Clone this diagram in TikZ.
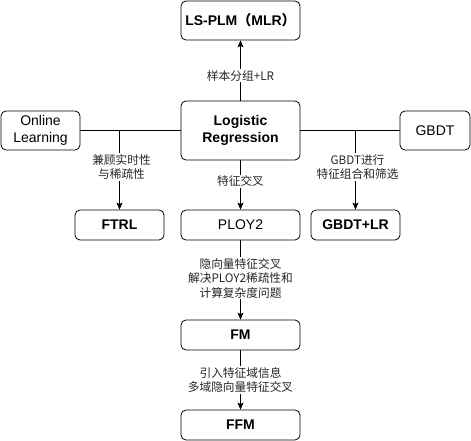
\documentclass[tikz,border=0pt]{standalone}
\usepackage{fontspec}
\setmainfont{Liberation Sans}
\newfontfamily\cjk{Noto Sans CJK SC}
\usetikzlibrary{positioning, arrows.meta}

\begin{document}
\begin{tikzpicture}[>={Stealth[length=7pt,width=6pt,inset=1.5pt]}, x=1pt, y=-1pt, line width=0.8pt,
  box/.style={draw, rounded corners=5pt, align=center, inner sep=0pt,
    font=\fontsize{14}{17}\selectfont},
  lab/.style={fill=white, align=center, inner sep=1pt, text=black!85,
    font=\cjk\fontsize{11.7}{14.5}\selectfont}]
\useasboundingbox (0,0) rectangle (471,441);
% boxes
\node[box, minimum width=119pt, minimum height=39pt] (mlr) at (240.5,20.5) {\textbf{LS-PLM{\cjk （}MLR{\cjk ）}}};
\node[box, minimum width=119pt, minimum height=59pt] (lr) at (240.5,130.5) {\textbf{Logistic}\\\textbf{Regression}};
\node[box, minimum width=79pt, minimum height=39pt] (online) at (40.5,130.5) {Online\\Learning};
\node[box, minimum width=70pt, minimum height=39pt] (gbdt) at (435,130.5) {GBDT};
\node[box, minimum width=89pt, minimum height=30pt] (ftrl) at (119.5,225) {\textbf{FTRL}};
\node[box, minimum width=119pt, minimum height=30pt] (ploy) at (240.5,225) {PLOY2};
\node[box, minimum width=89pt, minimum height=30pt] (gbdtlr) at (355.5,225) {\textbf{GBDT+LR}};
\node[box, minimum width=119pt, minimum height=30pt] (fm) at (240.5,335) {\textbf{FM}};
\node[box, minimum width=119pt, minimum height=30pt] (ffm) at (240.5,425) {\textbf{FFM}};
% connectors
\draw (online) -- (lr) -- (gbdt);
\draw[->] (lr) -- node[lab, pos=.41]{样本分组+LR} (mlr);
\draw[->] (online -| ftrl) -- node[lab, pos=.46, xshift=2pt]{兼顾实时性\\与稀疏性} (ftrl);
\draw[->] (gbdt -| gbdtlr) -- node[lab, pos=.46, xshift=2pt]{GBDT进行\\特征组合和筛选} (gbdtlr);
\draw[->] (lr) -- node[lab, pos=.42]{特征交叉} (ploy);
\draw[->] (ploy) -- node[lab, pos=.475]{隐向量特征交叉\\解决PLOY2稀疏性和\\计算复杂度问题} (fm);
\draw[->] (fm) -- node[lab, pos=.5]{引入特征域信息\\多域隐向量特征交叉} (ffm);
\end{tikzpicture}
\end{document}
